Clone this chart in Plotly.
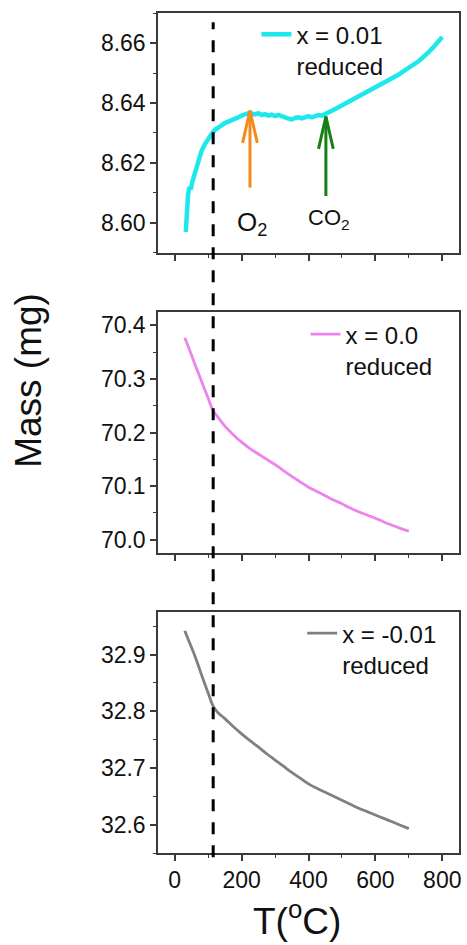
import plotly.graph_objects as go

# ---------------- data ----------------
T_top = [33, 36, 40, 44, 48, 52, 56, 60, 65, 70, 75, 80, 90, 100, 110, 120, 130, 140, 150,
         160, 170, 180, 190, 200, 210, 220, 230, 240, 250, 260, 270, 280, 290, 300, 310, 320,
         330, 340, 350, 360, 370, 380, 390, 400, 410, 420, 430, 440, 450, 460, 470, 480, 490,
         500, 510, 520, 530, 540, 550, 560, 570, 580, 590, 600, 610, 620, 630, 640, 650, 660,
         670, 680, 690, 700, 710, 720, 730, 740, 750, 760, 770, 780, 790, 800]
M_top = [8.5970, 8.6040, 8.6095, 8.6120, 8.6112, 8.6135, 8.6150, 8.6172, 8.6190, 8.6212,
         8.6225, 8.6240, 8.6262, 8.6282, 8.6296, 8.6310, 8.6318, 8.6327, 8.6333, 8.6338,
         8.6342, 8.6349, 8.6352, 8.6358, 8.6361, 8.6366, 8.6365, 8.6362, 8.6366, 8.6360,
         8.6363, 8.6358, 8.6361, 8.6356, 8.6360, 8.6354, 8.6352, 8.6348, 8.6345, 8.6350,
         8.6352, 8.6349, 8.6354, 8.6356, 8.6352, 8.6357, 8.6360, 8.6358, 8.6362, 8.6368,
         8.6374, 8.6380, 8.6386, 8.6390, 8.6395, 8.6402, 8.6408, 8.6415, 8.6420, 8.6426,
         8.6432, 8.6438, 8.6443, 8.6450, 8.6455, 8.6462, 8.6468, 8.6474, 8.6480, 8.6488,
         8.6495, 8.6503, 8.6510, 8.6518, 8.6524, 8.6533, 8.6540, 8.6550, 8.6558, 8.6570,
         8.6582, 8.6594, 8.6608, 8.6620]

T_mid = [30, 40, 50, 60, 70, 80, 90, 100, 115, 130, 150, 175, 200, 225, 250, 275, 300, 325,
         350, 375, 400, 425, 450, 475, 500, 525, 550, 575, 600, 625, 650, 675, 700]
M_mid = [70.377, 70.361, 70.345, 70.328, 70.312, 70.296, 70.280, 70.264, 70.241, 70.228,
         70.212, 70.196, 70.182, 70.170, 70.160, 70.150, 70.140, 70.129, 70.118, 70.108,
         70.098, 70.090, 70.082, 70.074, 70.067, 70.059, 70.052, 70.046, 70.040, 70.033,
         70.027, 70.021, 70.016]

T_bot = [30, 45, 60, 75, 90, 100, 115, 130, 150, 175, 200, 225, 250, 275, 300, 325, 350,
         375, 400, 425, 450, 475, 500, 525, 550, 575, 600, 625, 650, 675, 700]
M_bot = [32.942, 32.920, 32.898, 32.873, 32.848, 32.832, 32.809, 32.797, 32.787, 32.773,
         32.760, 32.748, 32.737, 32.725, 32.714, 32.703, 32.692, 32.682, 32.672, 32.664,
         32.657, 32.650, 32.643, 32.636, 32.629, 32.623, 32.617, 32.611, 32.605, 32.599,
         32.593]

series_names = ["x = 0.01<br>reduced", "x = 0.0<br>reduced", "x = -0.01<br>reduced"]

x_ticks = [0, 200, 400, 600, 800]
top_ticks = [8.60, 8.62, 8.64, 8.66]
mid_ticks = [70.0, 70.1, 70.2, 70.3, 70.4]
bot_ticks = [32.6, 32.7, 32.8, 32.9]

dash_T = 115

arrow_T = [225, 452]
arrow_tail = [8.6118, 8.6090]
arrow_tip = [8.6375, 8.6355]
arrow_colors = ["#F28A1E", "#167F16"]
label_text = ["O<sub>2</sub>", "CO<sub>2</sub>"]
label_T = [231, 462]
label_M = [8.5997, 8.6013]
label_size = [26, 22]

# ---------------- style ----------------
FONT = "Liberation Sans, Arial, sans-serif"
AX = "#3a3a3a"
head_dx = 22      # arrow head half-width (data units of T)
head_dy = 0.0108  # arrow head length (data units of mass)

fig = go.Figure()

fig.add_trace(go.Scatter(x=T_top, y=M_top, mode="lines", name=series_names[0],
                         line=dict(color="#1FE8EC", width=4.5), xaxis="x", yaxis="y",
                         legend="legend"))
fig.add_trace(go.Scatter(x=T_mid, y=M_mid, mode="lines", name=series_names[1],
                         line=dict(color="#EE82EE", width=2.8, shape="spline"),
                         xaxis="x2", yaxis="y2", legend="legend2"))
fig.add_trace(go.Scatter(x=T_bot, y=M_bot, mode="lines", name=series_names[2],
                         line=dict(color="#808080", width=2.8, shape="spline"),
                         xaxis="x3", yaxis="y3", legend="legend3"))

# arrows (shaft + open head) built from arrow arrays
for xa, yt, yh, c in zip(arrow_T, arrow_tail, arrow_tip, arrow_colors):
    fig.add_trace(go.Scatter(x=[xa, xa], y=[yt, yh], mode="lines",
                             line=dict(color=c, width=3), showlegend=False,
                             hoverinfo="skip", xaxis="x", yaxis="y"))
    fig.add_trace(go.Scatter(x=[xa - head_dx, xa, xa + head_dx],
                             y=[yh - head_dy, yh, yh - head_dy], mode="lines",
                             line=dict(color=c, width=3), showlegend=False,
                             hoverinfo="skip", xaxis="x", yaxis="y"))

for t, xa, ym, s in zip(label_text, label_T, label_M, label_size):
    fig.add_annotation(x=xa, y=ym, xref="x", yref="y", text=t, showarrow=False,
                       xanchor="center", yanchor="middle",
                       font=dict(family=FONT, size=s, color="#111"))

# dashed vertical marker across all panels
fig.add_shape(type="line", xref="x", yref="paper", x0=dash_T, x1=dash_T,
              y0=-0.005, y1=0.989, line=dict(color="black", width=3, dash="12px,11px"),
              layer="above")

xcommon = dict(range=[-50, 850], tickvals=x_ticks, ticks="outside", ticklen=6,
               tickwidth=1.5, tickcolor=AX, showline=True, linecolor=AX, linewidth=1.5,
               mirror=True, showgrid=False, zeroline=False,
               minor=dict(dtick=100, tick0=0, ticks="outside", ticklen=3, tickcolor=AX,
                          tickwidth=1.2),
               tickfont=dict(family=FONT, size=23, color="#111"))
ycommon = dict(ticks="outside", ticklen=6, tickwidth=1.5, tickcolor=AX, showline=True,
               linecolor=AX, linewidth=1.5, mirror=True, showgrid=False, zeroline=False,
               tickfont=dict(family=FONT, size=23, color="#111"))

fig.update_layout(
    width=467, height=945,
    margin=dict(l=158, r=6, t=13, b=92),
    paper_bgcolor="white", plot_bgcolor="white",
    font=dict(family=FONT, color="#111"),
    xaxis=dict(**xcommon, anchor="y", showticklabels=False),
    xaxis2=dict(**xcommon, anchor="y2", showticklabels=False),
    xaxis3=dict(**xcommon, anchor="y3"),
    yaxis=dict(**ycommon, domain=[0.7143, 1.0], anchor="x", range=[8.59, 8.67],
               tickvals=top_ticks, tickformat=".2f",
               minor=dict(dtick=0.01, tick0=8.59, ticks="outside", ticklen=3,
                          tickcolor=AX, tickwidth=1.2)),
    yaxis2=dict(**ycommon, domain=[0.3571, 0.644], anchor="x2", range=[69.975, 70.425],
                tickvals=mid_ticks, tickformat=".1f",
                minor=dict(dtick=0.05, tick0=70.0, ticks="outside", ticklen=3,
                           tickcolor=AX, tickwidth=1.2)),
    yaxis3=dict(**ycommon, domain=[0.0, 0.2869], anchor="x3", range=[32.55, 32.975],
                tickvals=bot_ticks, tickformat=".1f",
                minor=dict(dtick=0.05, tick0=32.6, ticks="outside", ticklen=3,
                           tickcolor=AX, tickwidth=1.2)),
    legend=dict(x=0.327, y=1.001, xanchor="left", yanchor="top", valign="top",
                bgcolor="rgba(0,0,0,0)", font=dict(family=FONT, size=24, color="#111")),
    legend2=dict(x=0.49, y=0.644, xanchor="left", yanchor="top", valign="top",
                 bgcolor="rgba(0,0,0,0)", font=dict(family=FONT, size=24, color="#111")),
    legend3=dict(x=0.479, y=0.288, xanchor="left", yanchor="top", valign="top",
                 bgcolor="rgba(0,0,0,0)", font=dict(family=FONT, size=24, color="#111")),
    showlegend=True,
)

fig.add_annotation(text="Mass (mg)", xref="paper", yref="paper",
                   x=(27 - 158) / 303, y=(853 - 380) / 840, textangle=-90,
                   xanchor="center", yanchor="middle",
                   showarrow=False, font=dict(family=FONT, size=37, color="#111"))
fig.add_annotation(text="T(<sup>o</sup>C)", xref="paper", yref="paper",
                   x=(298 - 158) / 303, y=(853 - 918) / 840, showarrow=False,
                   xanchor="center", yanchor="middle",
                   font=dict(family=FONT, size=37, color="#111"))

fig.write_html("out.html")
